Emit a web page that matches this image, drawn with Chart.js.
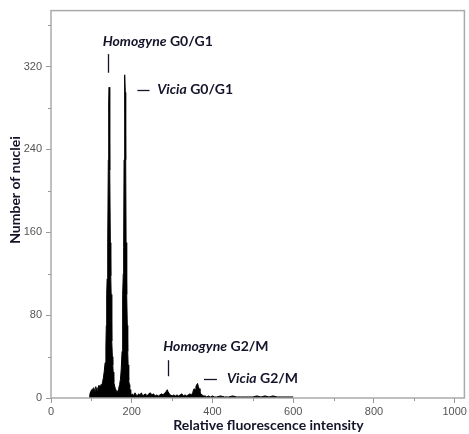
<!DOCTYPE html>
<html><head><meta charset="utf-8">
<script src="https://cdn.jsdelivr.net/npm/chart.js@4"></script>
<style>html,body{margin:0;padding:0;background:#fff}canvas{display:block}</style>
</head><body>
<canvas id="c" width="469" height="434"></canvas>
<script>
// ---- data ----
const channels = [95,96,98,99,100,102,103,104,105,106,107,108,110,111,112,113,114,116,117,118,119,120,122,124,126,128,130,132,134,136,137,138,139,140,141,142,143,144,145,146,147,148,149,150,151,152,153,154,155,156,158,160,161,162,163,164,165,166,167,168,170,172,174,176,177,178,179,180,181,182,183,184,185,186,187,188,189,190,191,192,193,194,195,196,197,198,200,202,205,208,211,214,217,220,224,227,230,234,238,242,246,250,254,258,262,266,270,274,278,282,285,288,290,293,296,300,304,308,312,316,320,324,328,332,336,340,344,348,351,353,355,357,359,361,363,365,367,369,371,374,378,382,386,390,395,400,405,410,420,430,440,450,460,470,480,490,500,510,520,530,540,550,560,570,580,590,600];
const counts   = [0,3,6,4,8,5,9,5,7,10,6,8,6,11,7,9,7,10,8,12,9,12,10,13,12,16,20,26,34,50,70,100,115,125,150,230,285,300,285,220,150,118,100,80,55,40,32,25,19,15,11,8,5,6,4,5,7,5,8,9,13,18,28,45,70,100,120,145,230,290,312,295,230,150,120,100,70,45,32,24,17,13,10,8,6,4,3,4,2,5,3,2,4,3,5,2,3,4,2,4,5,3,4,2,3,2,3,4,3,5,6,8,6,4,3,2,3,2,3,2,3,4,2,3,2,3,4,3,5,8,9,8,11,13,14,11,9,6,4,3,2,2,1,2,1,2,1,1,2,1,1,2,1,1,1,1,1,2,1,2,1,2,1,1,1,1,1,0];
const xTicks = [0,200,400,600,800,1000];
const yTicks = [0,80,160,240,320];
const xMinor = [100,300,500,700,900];
const yMinor = [40,120,200,280,360];
const xTitle = 'Relative fluorescence intensity';
const yTitle = 'Number of nuclei';
const peakNames = ['Homogyne','Vicia','Homogyne','Vicia'];
const peakPhases = [' G0/G1',' G0/G1',' G2/M',' G2/M'];

// ---- layout of annotation text (data coordinates) ----
const annos = [
  {text:0, tx:128, ty:344, mark:'v', mx:142, my1:332, my2:314},
  {text:1, tx:263, ty:298, mark:'h', mx1:214, mx2:244, my:297},
  {text:2, tx:278, ty:50,  mark:'v', mx:290, my1:36.5, my2:21},
  {text:3, tx:436, ty:19,  mark:'h', mx1:379, mx2:411, my:18}
];

const INK = '#14142a';
const FONT = 'Lato, "Open Sans", sans-serif';

const framePlugin = {
  id:'frame',
  afterDatasetsDraw(chart){
    const {ctx, chartArea:a, scales:{x, y}} = chart;
    ctx.save();
    ctx.strokeStyle = '#aaaaaa';
    ctx.lineWidth = 1.5;
    ctx.strokeRect(a.left, a.top, a.right - a.left, a.bottom - a.top);
    ctx.strokeStyle = '#999';
    ctx.lineWidth = 1;
    ctx.beginPath();
    yMinor.forEach(v => { const p = Math.round(y.getPixelForValue(v)) + 0.5; ctx.moveTo(a.left - 3, p); ctx.lineTo(a.left, p); });
    xMinor.forEach(v => { const p = Math.round(x.getPixelForValue(v)) + 0.5; ctx.moveTo(p, a.bottom); ctx.lineTo(p, a.bottom + 3); });
    ctx.stroke();
    ctx.restore();
  },
  afterDraw(chart){
    const {ctx, scales:{x, y}} = chart;
    ctx.save();
    ctx.fillStyle = INK;
    ctx.strokeStyle = INK;
    ctx.lineWidth = 1.3;
    ctx.textBaseline = 'middle';
    annos.forEach(an => {
      let px = x.getPixelForValue(an.tx);
      const py = y.getPixelForValue(an.ty);
      ctx.font = 'italic bold 14px ' + FONT;
      ctx.textAlign = 'left';
      ctx.fillText(peakNames[an.text], px, py);
      px += ctx.measureText(peakNames[an.text]).width;
      ctx.font = 'bold 14px ' + FONT;
      ctx.fillText(peakPhases[an.text], px, py);
      ctx.beginPath();
      if (an.mark === 'v') {
        const mx = Math.round(x.getPixelForValue(an.mx)) + 0.5;
        ctx.moveTo(mx, y.getPixelForValue(an.my1));
        ctx.lineTo(mx, y.getPixelForValue(an.my2));
      } else {
        const my = Math.round(y.getPixelForValue(an.my)) + 0.5;
        ctx.moveTo(x.getPixelForValue(an.mx1), my);
        ctx.lineTo(x.getPixelForValue(an.mx2), my);
      }
      ctx.stroke();
    });
    // axis titles
    ctx.font = 'bold 14px ' + FONT;
    ctx.textAlign = 'center';
    ctx.fillText(xTitle, 268.5, 425);
    ctx.translate(15, 190);
    ctx.rotate(-Math.PI/2);
    ctx.fillText(yTitle, 0, 0);
    ctx.restore();
  }
};

const tickFont = {family:'"Liberation Sans", Arial, sans-serif', size:11};

new Chart(document.getElementById('c'), {
  type:'line',
  data:{
    datasets:[{
      data: channels.map((c, i) => ({x:c, y:counts[i]})),
      borderColor:'#000',
      backgroundColor:'#000',
      borderWidth:1,
      pointRadius:0,
      tension:0,
      fill:'origin'
    }]
  },
  options:{
    responsive:false,
    animation:false,
    events:[],
    layout:{padding:{top:9, right:2, left:0, bottom:0}},
    plugins:{legend:{display:false}, tooltip:{enabled:false}},
    scales:{
      x:{
        type:'linear', min:0, max:1024,
        afterBuildTicks: s => { s.ticks = xTicks.map(v => ({value:v})); },
        afterFit: s => { s.height = 36; },
        ticks:{color:'#555', font:tickFont, padding:2, maxRotation:0, autoSkip:false, callback: v => String(v)},
        grid:{display:true, drawOnChartArea:false, tickLength:5, tickColor:'#999'},
        border:{display:false}
      },
      y:{
        type:'linear', min:0, max:374,
        afterBuildTicks: s => { s.ticks = yTicks.map(v => ({value:v})); },
        afterFit: s => { s.width = 51; },
        ticks:{color:'#555', font:tickFont, padding:4, autoSkip:false, callback: v => String(v)},
        grid:{display:true, drawOnChartArea:false, tickLength:5, tickColor:'#999'},
        border:{display:false}
      }
    }
  },
  plugins:[framePlugin]
});
</script>
</body></html>
